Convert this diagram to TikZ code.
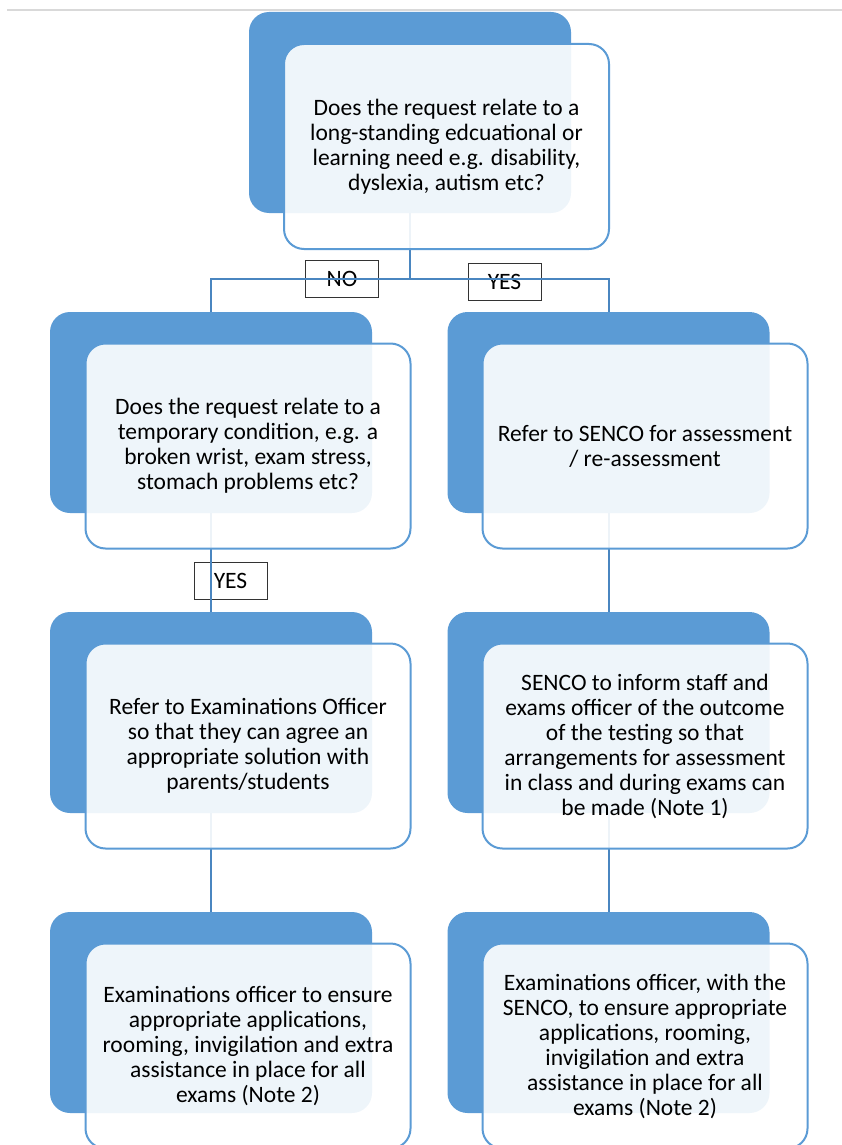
\documentclass[tikz,border=0pt]{standalone}
\usepackage{fontspec}
\setmainfont{Carlito}
\usepackage{xcolor}
\usepackage{tikz}
\usetikzlibrary{positioning}
\definecolor{officeblue}{HTML}{5B9BD5}
\definecolor{linkblue}{HTML}{4A86C0}
\definecolor{rulegray}{HTML}{D9D9D9}

\tikzset{
  backblock/.style={rectangle, rounded corners=20pt, fill=officeblue, minimum width=322pt, minimum height=201pt, inner sep=0pt},
  frontblock/.style={rectangle, rounded corners=20pt, draw=officeblue, line width=2pt, fill=white, fill opacity=0.9, text opacity=1, minimum width=325pt, minimum height=205pt, inner sep=0pt, align=center, text=black, font=\fontsize{23.5}{25}\selectfont},
  answer/.style={rectangle, draw=black!80, line width=1pt, minimum width=73pt, minimum height=37pt, inner sep=0pt, text=black, font=\fontsize{23.5}{25}\selectfont},
  link/.style={draw=linkblue, line width=2pt}
}

\begin{document}
\begin{tikzpicture}[x=1pt,y=-1pt]
    \useasboundingbox (0,0) rectangle (842,1145);
    \clip (0,0) rectangle (842,1145);
    \draw[rulegray, line width=1.5pt] (7,10) -- (842,10);

    \node[backblock] (longback) at (410,112.5) {};
    \node[backblock] (tempback) at (211,412.5) {};
    \node[backblock] (sencoback) at (608.5,412.5) {};
    \node[backblock] (officerback) at (211,712.5) {};
    \node[backblock] (informback) at (608.5,712.5) {};
    \node[backblock] (ensureback) at (211,1012.5) {};
    \node[backblock] (jointback) at (608.5,1012.5) {};

    \node[answer] (no) at (342,278.5) {NO};
    \node[answer] (yes) at (504.5,282) {YES};
    \node[answer] (yestemp) at (230.5,581) {YES};

    \coordinate (split) at (410,279);
    \draw[link] (longback.south) -- (split) -| (tempback.north);
    \draw[link] (split) -| (sencoback.north);
    \draw[link] (tempback.south) -- (officerback.north);
    \draw[link] (sencoback.south) -- (informback.north);
    \draw[link] (officerback.south) -- (ensureback.north);
    \draw[link] (informback.south) -- (jointback.north);

    \node[frontblock] (long) at (446.5,146.5) {Does the request relate to a\\long-standing edcuational or\\learning need e.g. disability,\\dyslexia, autism etc?};
    \node[frontblock] (temp) at (248,446) {Does the request relate to a\\temporary condition, e.g. a\\broken wrist, exam stress,\\stomach problems etc?};
    \node[frontblock] (senco) at (645,446) {Refer to SENCO for assessment\\/ re-assessment};
    \node[frontblock] (officer) at (248,746) {Refer to Examinations Officer\\so that they can agree an\\appropriate solution with\\parents/students};
    \node[frontblock] (inform) at (645,746) {SENCO to inform staff and\\exams officer of the outcome\\of the testing so that\\arrangements for assessment\\in class and during exams can\\be made (Note 1)};
    \node[frontblock] (ensure) at (248,1046) {Examinations officer to ensure\\appropriate applications,\\rooming, invigilation and extra\\assistance in place for all\\exams (Note 2)};
    \node[frontblock] (joint) at (645,1046) {Examinations officer, with the\\SENCO, to ensure appropriate\\applications, rooming,\\invigilation and extra\\assistance in place for all\\exams (Note 2)};
\end{tikzpicture}
\end{document}
